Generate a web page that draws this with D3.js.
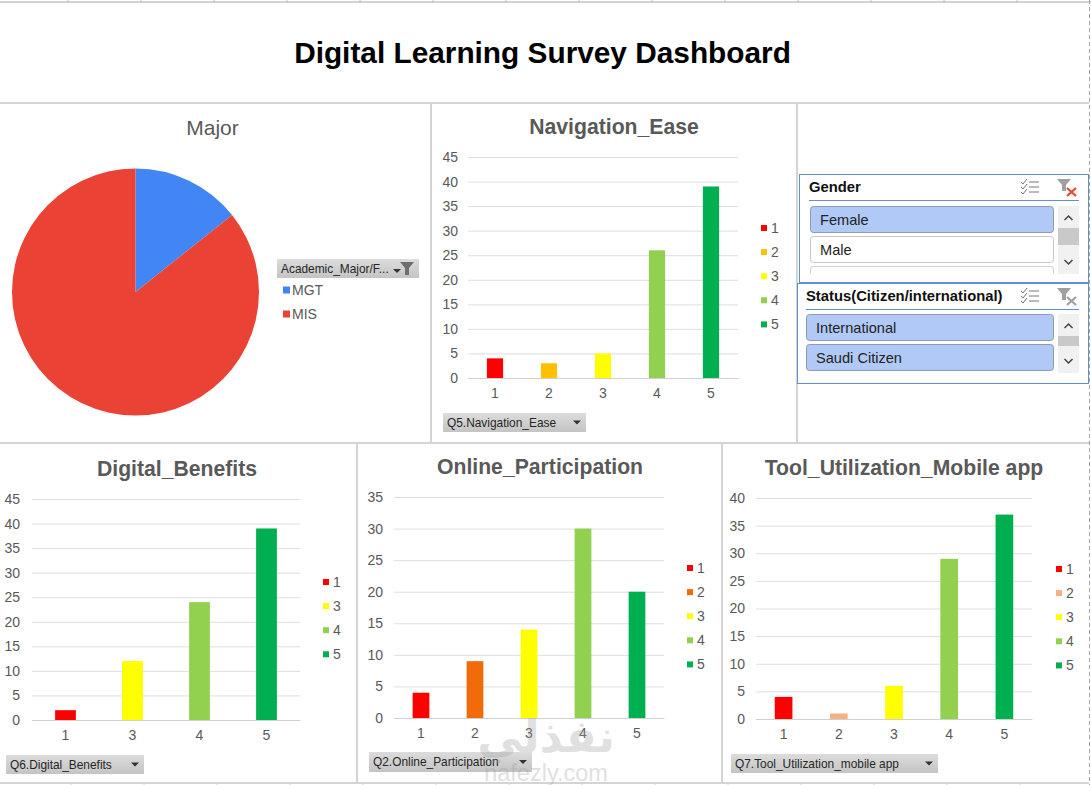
<!DOCTYPE html>
<html>
<head>
<meta charset="utf-8">
<script src="https://cdn.jsdelivr.net/npm/d3@7"></script>
<style>
  html, body { margin: 0; padding: 0; background: #fff; }
  svg { display: block; }
  text { font-family: "Liberation Sans", Arial, sans-serif; }
</style>
</head>
<body>
<div id="chart"></div>
<script>
// values
const majorNames = ["MGT", "MIS"];
const majorValues = [11, 66];

const navCats = ["1", "2", "3", "4", "5"];
const navValues = [4, 3, 5, 26, 39];
const navTicks = [0, 5, 10, 15, 20, 25, 30, 35, 40, 45];

const benefitCats = ["1", "3", "4", "5"];
const benefitValues = [2, 12, 24, 39];
const benefitTicks = [0, 5, 10, 15, 20, 25, 30, 35, 40, 45];

const partCats = ["1", "2", "3", "4", "5"];
const partValues = [4, 9, 14, 30, 20];
const partTicks = [0, 5, 10, 15, 20, 25, 30, 35];

const toolCats = ["1", "2", "3", "4", "5"];
const toolValues = [4, 1, 6, 29, 37];
const toolTicks = [0, 5, 10, 15, 20, 25, 30, 35, 40];

const genderItems = ["Female", "Male"];
const statusItems = ["International", "Saudi Citizen"];
const sheetTicks = [68, 141, 214, 287, 360, 433, 506, 579, 652, 725, 798, 871, 944, 1017];

const width = 1091, height = 785;
const svg = d3.select("#chart").append("svg")
    .attr("width", width)
    .attr("height", height)
    .attr("viewBox", [0, 0, width, height]);

const defs = svg.append("defs");
const grad = defs.append("linearGradient").attr("id", "btn").attr("x2", 0).attr("y2", 1);
grad.append("stop").attr("offset", 0).attr("stop-color", "#dcdcdc");
grad.append("stop").attr("offset", 1).attr("stop-color", "#c4c4c4");

// spreadsheet bits behind the dashboard
svg.append("line").attr("x1", 0).attr("x2", width).attr("y1", 2).attr("y2", 2).attr("stroke", "#a6a6a6");
svg.selectAll(".topTick").data(sheetTicks).join("line")
    .attr("x1", d => d).attr("x2", d => d).attr("y1", 0).attr("y2", 3).attr("stroke", "#c0c0c0");
svg.selectAll(".botTick").data(sheetTicks).join("line")
    .attr("x1", d => d + 3).attr("x2", d => d + 3).attr("y1", 783).attr("y2", 785).attr("stroke", "#d0d0d0");
svg.append("line").attr("x1", 1089.5).attr("x2", 1089.5).attr("y1", 0).attr("y2", height)
    .attr("stroke", "#a6a6a6").attr("stroke-dasharray", "4,3");

function rule(x1, y1, x2, y2) {
    svg.append("line").attr("x1", x1).attr("y1", y1).attr("x2", x2).attr("y2", y2)
        .attr("stroke", "#d4d4d4").attr("stroke-width", 2);
}
rule(0, 103, 1089, 103);
rule(0, 443, 1089, 443);
rule(431, 103, 431, 443);
rule(797, 103, 797, 443);
rule(357, 444, 357, 783);
rule(722, 444, 722, 783);
rule(0, 783, 1089, 783);

svg.append("text").attr("x", 542.5).attr("y", 63)
    .attr("text-anchor", "middle")
    .style("font-size", "29.8px").style("font-weight", "bold").attr("fill", "#000")
    .text("Digital Learning Survey Dashboard");

function fieldButton(x, y, w, h, label) {
    svg.append("rect").attr("x", x).attr("y", y).attr("width", w).attr("height", h).attr("fill", "url(#btn)");
    svg.append("text").attr("x", x + 4).attr("y", y + h / 2 + 4)
        .style("font-size", "11.9px").attr("fill", "#262626").text(label);
}

function arrow(x, y) {
    svg.append("path").attr("d", `M${x - 4},${y - 2}L${x + 4},${y - 2}L${x},${y + 2}Z`).attr("fill", "#333");
}

// pie
const pieColor = d3.scaleOrdinal().domain(majorNames).range(["#4285f4", "#ea4335"]);
const pie = d3.pie().sort(null)(majorValues);
const arc = d3.arc().innerRadius(0).outerRadius(123.5);
svg.append("g").attr("transform", "translate(135.5,292)")
    .selectAll("path").data(pie).join("path")
    .attr("d", arc)
    .attr("fill", (d, i) => pieColor(majorNames[i]));

svg.append("text").attr("x", 212.5).attr("y", 135).attr("text-anchor", "middle")
    .style("font-size", "21px").attr("fill", "#595959").text("Major");

fieldButton(277, 259, 142, 19, "Academic_Major/F...");
arrow(397, 271);
svg.append("path").attr("d", "M400,262L414,262L409,268L409,275L405,275L405,268Z").attr("fill", "#6e6e6e");

const pieLegend = svg.append("g").selectAll("g").data(majorNames).join("g")
    .attr("transform", (d, i) => `translate(283,${290 + i * 24})`);
pieLegend.append("rect").attr("y", -3.5).attr("width", 7).attr("height", 7).attr("fill", d => pieColor(d));
pieLegend.append("text").attr("x", 9).attr("y", 5).style("font-size", "14px").attr("fill", "#595959").text(d => d);

// one column chart with its title, legend and field button
function columnChart(cfg) {
    const x = d3.scaleBand().domain(cfg.cats).range([cfg.left, cfg.right]).paddingInner(cfg.gap).paddingOuter(cfg.gap / 2);
    const y = d3.scaleLinear().domain([0, d3.max(cfg.ticks)]).range([cfg.bottom, cfg.top]);
    const color = d3.scaleOrdinal().domain(["1", "2", "3", "4", "5"])
        .range(["#ff0000", cfg.color2, "#ffff00", "#92d050", "#00b050"]);

    const g = svg.append("g");

    const yAxis = g.append("g").attr("transform", `translate(${cfg.left},0)`)
        .call(d3.axisLeft(y).tickValues(cfg.ticks).tickSize(-(cfg.right - cfg.left)).tickPadding(cfg.pad));
    yAxis.select(".domain").remove();
    yAxis.selectAll("line").attr("stroke", "#dedede");
    yAxis.selectAll("text").style("font-size", "14px").attr("fill", "#595959");

    const xAxis = g.append("g").attr("transform", `translate(0,${cfg.bottom})`)
        .call(d3.axisBottom(x).tickSize(0).tickPadding(10));
    xAxis.select(".domain").attr("stroke", "#d0d0d0");
    xAxis.selectAll("text").style("font-size", "14px").attr("fill", "#595959");

    g.selectAll("rect.bar").data(cfg.cats).join("rect")
        .attr("class", "bar")
        .attr("x", d => x(d))
        .attr("width", x.bandwidth())
        .attr("y", (d, i) => y(cfg.values[i]))
        .attr("height", (d, i) => cfg.bottom - y(cfg.values[i]))
        .attr("fill", d => color(d));

    svg.append("text").attr("x", cfg.titleX).attr("y", cfg.titleY).attr("text-anchor", "middle")
        .style("font-size", "21.2px").style("font-weight", "bold").attr("fill", "#595959").text(cfg.title);

    const legend = svg.append("g").selectAll("g").data(cfg.cats).join("g")
        .attr("transform", (d, i) => `translate(${cfg.legendX},${cfg.legendY + i * 24.1})`);
    legend.append("rect").attr("y", -3).attr("width", 6).attr("height", 6).attr("fill", d => color(d));
    legend.append("text").attr("x", 10).attr("y", 5).style("font-size", "14px").attr("fill", "#595959").text(d => d);

    fieldButton(cfg.btn[0], cfg.btn[1], cfg.btn[2], cfg.btn[3], cfg.field);
    arrow(cfg.btn[0] + cfg.btn[2] - 9, cfg.btn[1] + cfg.btn[3] / 2);
}

columnChart({
    cats: navCats, values: navValues, ticks: navTicks, title: "Navigation_Ease", field: "Q5.Navigation_Ease",
    color2: "#ffc000", left: 468, right: 738, top: 157, bottom: 378, gap: 0.7, pad: 10,
    titleX: 614, titleY: 134, legendX: 761, legendY: 228, btn: [443, 413, 143, 19]
});
columnChart({
    cats: benefitCats, values: benefitValues, ticks: benefitTicks, title: "Digital_Benefits", field: "Q6.Digital_Benefits",
    color2: "#ffc000", left: 32, right: 300, top: 499, bottom: 720, gap: 0.69, pad: 12,
    titleX: 177, titleY: 476, legendX: 323, legendY: 582, btn: [6, 755, 138, 19]
});
columnChart({
    cats: partCats, values: partValues, ticks: partTicks, title: "Online_Participation", field: "Q2.Online_Participation",
    color2: "#f26b0a", left: 394, right: 664, top: 497, bottom: 718, gap: 0.69, pad: 11,
    titleX: 540, titleY: 474, legendX: 687, legendY: 568, btn: [369, 752, 163, 20]
});
columnChart({
    cats: toolCats, values: toolValues, ticks: toolTicks, title: "Tool_Utilization_Mobile app", field: "Q7.Tool_Utilization_mobile app",
    color2: "#f4b183", left: 756, right: 1032, top: 498, bottom: 719, gap: 0.68, pad: 11,
    titleX: 904, titleY: 475, legendX: 1056, legendY: 569, btn: [731, 754, 207, 19]
});

// slicers
function slicer(cfg) {
    svg.append("rect").attr("x", cfg.x + 0.5).attr("y", cfg.y + 0.5).attr("width", cfg.w).attr("height", cfg.h)
        .attr("fill", "#fff").attr("stroke", "#5f8fd6");
    svg.append("text").attr("x", cfg.titleX).attr("y", cfg.y + 18)
        .style("font-size", "14.8px").style("font-weight", "bold").attr("fill", "#111").text(cfg.title);
    svg.append("line").attr("x1", cfg.titleX).attr("x2", 1079).attr("y1", cfg.y + 26.5).attr("y2", cfg.y + 26.5).attr("stroke", "#5f8fd6");

    // multi select icon
    [0, 5, 10].forEach(dy => {
        const yy = cfg.y + 8 + dy;
        svg.append("path").attr("d", `M1021,${yy}L1023,${yy + 2}L1027,${yy - 3}`).attr("fill", "none").attr("stroke", "#777");
        svg.append("line").attr("x1", 1029).attr("x2", 1039).attr("y1", yy).attr("y2", yy).attr("stroke", "#777");
    });
    // clear filter icon
    svg.append("path").attr("d", `M1057,${cfg.y + 5}L1071,${cfg.y + 5}L1066,${cfg.y + 11}L1066,${cfg.y + 17}L1062,${cfg.y + 17}L1062,${cfg.y + 11}Z`)
        .attr("fill", "#a0a0a0");
    svg.append("path").attr("d", `M1067,${cfg.y + 14}L1076,${cfg.y + 22}M1076,${cfg.y + 14}L1067,${cfg.y + 22}`)
        .attr("stroke", cfg.clear).attr("stroke-width", 2.2);

    svg.selectAll(null).data(cfg.items).join("rect")
        .attr("x", cfg.itemX + 0.5).attr("y", (d, i) => cfg.itemY + i * 30 + 0.5)
        .attr("width", 1053 - cfg.itemX).attr("height", 26).attr("rx", 3)
        .attr("fill", (d, i) => cfg.selected[i] ? "#b0c9f7" : "#fff")
        .attr("stroke", (d, i) => cfg.selected[i] ? "#8f9aae" : "#c8c8c8");
    svg.selectAll(null).data(cfg.items).join("text")
        .attr("x", cfg.itemX + 10).attr("y", (d, i) => cfg.itemY + i * 30 + 19)
        .style("font-size", "14.6px").attr("fill", "#222").text(d => d);

    // scroll bar
    svg.append("rect").attr("x", 1058).attr("y", cfg.itemY).attr("width", 21).attr("height", cfg.scrollH).attr("fill", "#f1f1f1");
    svg.append("rect").attr("x", 1058).attr("y", cfg.itemY + 22).attr("width", 21).attr("height", cfg.thumb).attr("fill", "#c9c9c9");
    const ax = 1068.5;
    svg.append("path").attr("d", `M${ax - 4},${cfg.itemY + 14}L${ax},${cfg.itemY + 10}L${ax + 4},${cfg.itemY + 14}`)
        .attr("fill", "none").attr("stroke", "#444").attr("stroke-width", 1.5);
    const by = cfg.itemY + cfg.scrollH;
    svg.append("path").attr("d", `M${ax - 4},${by - 14}L${ax},${by - 10}L${ax + 4},${by - 14}`)
        .attr("fill", "none").attr("stroke", "#444").attr("stroke-width", 1.5);
}

slicer({
    x: 799, y: 174, w: 289, h: 108, title: "Gender", titleX: 809, clear: "#e0492f",
    items: genderItems, selected: [true, false], itemX: 810, itemY: 206, scrollH: 68, thumb: 17
});
// third, empty item of the gender list is cut off by the box below
svg.append("path").attr("d", "M810.5,274L810.5,269Q810.5,266.5 813,266.5L1051,266.5Q1053.5,266.5 1053.5,269L1053.5,274")
    .attr("fill", "none").attr("stroke", "#d0d0d0");

slicer({
    x: 797, y: 283, w: 291, h: 100, title: "Status(Citizen/international)", titleX: 806, clear: "#a0a0a0",
    items: statusItems, selected: [true, true], itemX: 806, itemY: 314, scrollH: 59, thumb: 10
});

// watermark over the lower charts
svg.append("text").attr("x", 546).attr("y", 752).attr("text-anchor", "middle")
    .style("font-family", "'DejaVu Sans'").style("font-size", "45px").style("font-weight", "bold")
    .attr("fill", "#9a9a9a").attr("opacity", 0.3).text("نفذلي");
svg.append("text").attr("x", 546).attr("y", 781).attr("text-anchor", "middle")
    .style("font-size", "23.5px").attr("fill", "#9a9a9a").attr("opacity", 0.3).text("nafezly.com");
</script>
</body>
</html>
